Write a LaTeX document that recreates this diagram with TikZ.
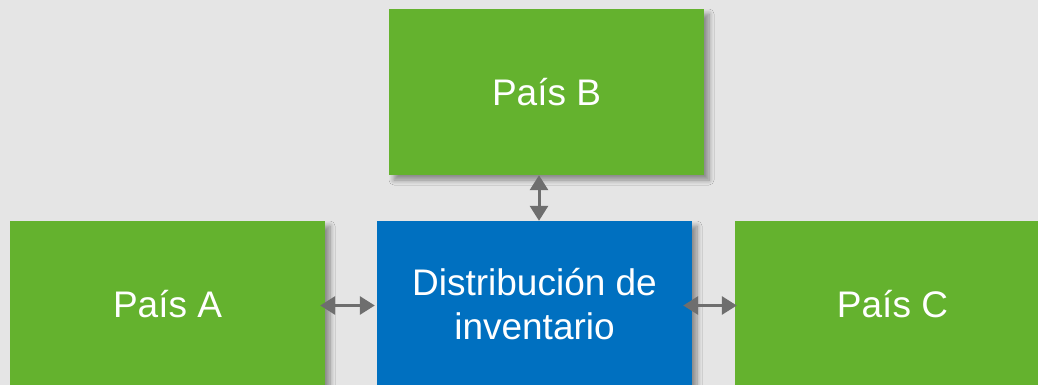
\documentclass[tikz,border=0pt]{standalone}
\usepackage{fontspec}
\setmainfont{Liberation Sans}
\usetikzlibrary{arrows.meta}
\usetikzlibrary{shadows.blur}
\definecolor{verde}{HTML}{64B22E}
\definecolor{azul}{HTML}{0070C0}
\definecolor{fondo}{HTML}{E5E5E5}
\definecolor{flecha}{HTML}{6E6E6E}

\begin{document}
\begin{tikzpicture}[x=1pt,y=-1pt,
  caja/.style={minimum width=315pt,minimum height=166pt,inner sep=0pt,text=white,align=center,
    font=\fontsize{37}{44}\selectfont,
    blur shadow={shadow xshift=5pt,shadow yshift=-5pt,shadow blur radius=5pt,shadow blur steps=8,shadow opacity=40}},
  flechas/.style={draw=flecha,line width=3pt,{Triangle[length=15pt,width=18pt]}-{Triangle[length=15pt,width=18pt]}}]

\useasboundingbox (0,0) rectangle (1038,385);
\fill[fondo] (0,0) rectangle (1038,385);
\clip (0,0) rectangle (1038,385);

% paises y centro
\node[caja,fill=verde] (B) at (546.5,92) {País B};
\node[caja,fill=verde] (A) at (167.5,304) {País A};
\node[caja,fill=azul] (D) at (534.5,304) {Distribución de\\inventario};
\node[caja,fill=verde] (C) at (892.5,304) {País C};

% flechas
\draw[flechas,shorten <=-5pt,shorten >=2pt] ([yshift=-1.5pt]A.east) -- ([yshift=-1.5pt]D.west);
\draw[flechas,shorten <=-9pt,shorten >=-2pt] ([yshift=-1.5pt]D.east) -- ([yshift=-1.5pt]C.west);
\draw[flechas] ([xshift=4.5pt]D.north) -- ([xshift=4.5pt]D.north |- B.south);

\end{tikzpicture}
\end{document}
